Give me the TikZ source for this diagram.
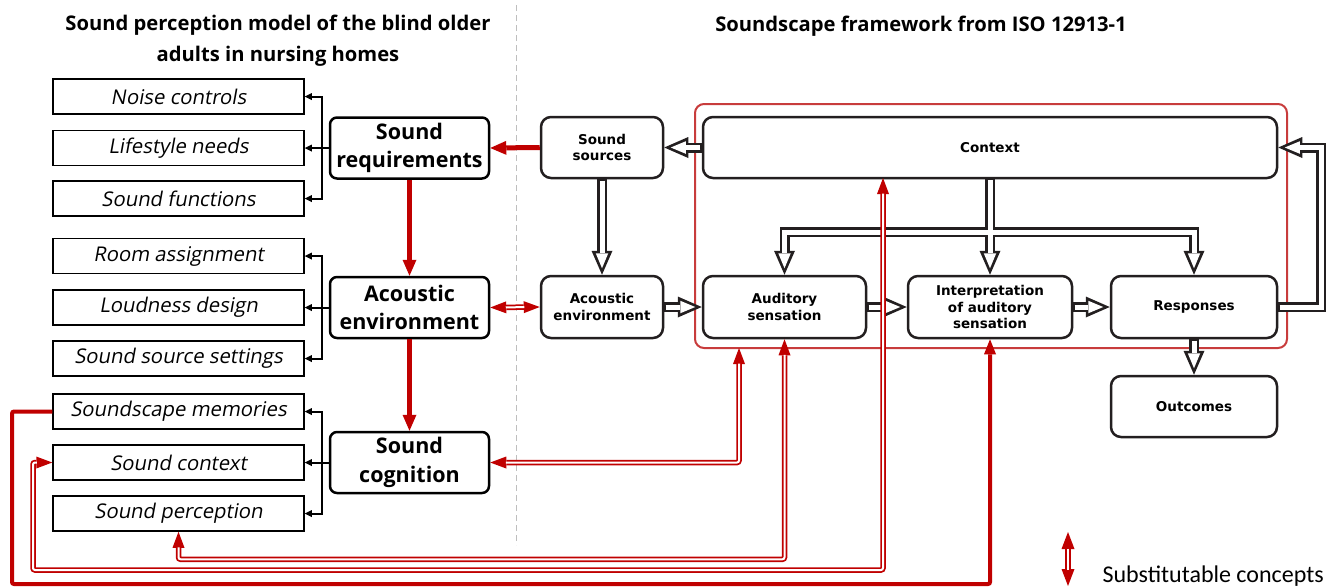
\documentclass[tikz,border=0pt]{standalone}
\usepackage{fontspec}
\setmainfont{Open Sans}
\newfontfamily\lblfont[FakeSlant=0.18]{Open Sans}
\newfontfamily\vfont{DejaVu Sans}
\newfontfamily\cfont{Carlito}
\usetikzlibrary{arrows.meta}
\definecolor{ink}{RGB}{35,31,32}
\definecolor{dred}{RGB}{192,0,0}
\definecolor{fred}{RGB}{200,60,60}
\begin{document}
\begin{tikzpicture}[x=1pt,y=-1pt,
  lbox/.style={draw=black, line width=1.5pt, minimum width=251pt, minimum height=35pt, inner sep=0pt, font=\lblfont\fontsize{20.3}{22}\selectfont},
  cbox/.style={draw=black, line width=2.5pt, rounded corners=7pt, minimum width=159pt, minimum height=61pt, inner sep=0pt, align=center, font=\bfseries\fontsize{21.5}{28.5}\selectfont},
  rbox/.style={draw=ink, line width=2.5pt, rounded corners=10pt, minimum height=61pt, inner sep=0pt, align=center, font=\vfont\bfseries\fontsize{13.5}{16.5}\selectfont},
  ttl/.style={align=center, font=\bfseries\fontsize{20.2}{31}\selectfont},
  blk/.style={draw=black, line width=2pt, -{Triangle[length=7pt,width=7pt,line width=0pt]}},
  holW/.style={draw=white, line width=5pt, shorten >=6.5pt, shorten <=1.4pt, -{Triangle[length=15pt,width=12.5pt,line width=0pt]}},
  hol/.style={draw=ink, line width=10pt, -{Triangle[length=24pt,width=21pt,line width=0pt]}, postaction={holW}},
  rthick/.style={draw=dred, line width=5pt, -{Triangle[length=16pt,width=14pt,line width=0pt]}},
  rthin/.style={draw=dred, line width=4pt, rounded corners=2pt, -{Triangle[length=15pt,width=12pt,line width=0pt]}},
  rdbl/.style={draw=dred, line width=5.5pt, rounded corners=2pt,
    {Triangle[length=16pt,width=12pt,line width=0pt]}-{Triangle[length=16pt,width=12pt,line width=0pt]},
    postaction={draw=white, line width=2pt, arrows=-, shorten <=15.5pt, shorten >=15.5pt}},
  legarr/.style={draw=dred, line width=5.5pt,
    {Triangle[length=17pt,width=13pt,line width=0pt]}-{Triangle[length=17pt,width=13pt,line width=0pt]},
    postaction={draw=white, line width=2pt, arrows=-, shorten <=16.5pt, shorten >=16.5pt}},
]
\useasboundingbox (0,0) rectangle (1338,587);

% titles
\node[ttl] (t1) at (278,41) {Sound perception model of the blind older\\adults in nursing homes};
\node[ttl] (t2) at (921,26) {Soundscape framework from ISO 12913-1};

% dashed divider
\draw[draw={rgb,255:red,190;green,190;blue,190}, line width=1pt, dash pattern=on 6pt off 4pt] (516,5) -- (516,545);

% left boxes
\node[lbox] (nc) at (178.5,96.5) {Noise controls};
\node[lbox] (ln) at (178.5,148) {Lifestyle needs};
\node[lbox] (sf) at (178.5,198.5) {Sound functions};
\node[lbox] (ra) at (178.5,256) {Room assignment};
\node[lbox] (ld) at (178.5,307.5) {Loudness design};
\node[lbox] (ss) at (178.5,358.5) {Sound source settings};
\node[lbox] (sm) at (178.5,411.5) {Soundscape memories};
\node[lbox] (sc) at (178.5,462.5) {Sound context};
\node[lbox] (sp) at (178.5,513.5) {Sound perception};

% center boxes
\node[cbox] (sr) at (409.5,148) {Sound\\requirements};
\node[cbox] (ae) at (409.5,307.5) {Acoustic\\environment};
\node[cbox] (sco) at (409.5,462.5) {Sound\\cognition};

% ISO frame
\node[draw=fred, line width=2pt, rounded corners=9pt, minimum width=592pt, minimum height=244pt, inner sep=0pt] (frame) at (991,226) {};

% right boxes
\node[rbox, minimum width=122pt] (src) at (602,147.5) {Sound\\sources};
\node[rbox, minimum width=122pt, minimum height=62pt] (ae2) at (602,307) {Acoustic\\environment};
\node[rbox, minimum width=574pt] (ctx) at (990,147.5) {Context};
\node[rbox, minimum width=163pt, minimum height=62pt] (aud) at (784.5,307) {Auditory\\sensation};
\node[rbox, minimum width=164pt, minimum height=62pt] (int) at (990,307) {Interpretation\\of auditory\\sensation};
\node[rbox, minimum width=166pt, minimum height=62pt] (resp) at (1194,307) {Responses};
\node[rbox, minimum width=166pt] (out) at (1194,406.5) {Outcomes};

% bracket connectors
\coordinate (b1) at (322,148);
\coordinate (b2) at (322,307.5);
\coordinate (b3) at (322,462.5);
\draw[blk] (sr.west) -- (ln.east);
\draw[blk] (sr.west) -- (b1) |- (nc.east);
\draw[blk] (sr.west) -- (b1) |- (sf.east);
\draw[blk] (ae.west) -- (ld.east);
\draw[blk] (ae.west) -- (b2) |- (ra.east);
\draw[blk] (ae.west) -- (b2) |- (ss.east);
\draw[blk] (sco.west) -- (sc.east);
\draw[blk] (sco.west) -- (b3) |- (sm.east);
\draw[blk] (sco.west) -- (b3) |- (sp.east);

% hollow (ISO) arrows
\coordinate (jn) at (990,232);
\draw[hol] (ctx.west) -- (src.east);
\draw[hol] (src.south) -- (ae2.north);
\draw[hol] (ae2.east) -- (aud.west);
\draw[hol] (aud.east) -- (int.west);
\draw[hol] (int.east) -- (resp.west);
\draw[hol] (resp.south) -- (out.north);
\draw[hol] (resp.east) -- ++(43,0) |- (ctx.east);
\draw[hol] (ctx.south) -- (jn) -| (aud.north);
\draw[hol] (ctx.south) -- (int.north);
\draw[hol] (ctx.south) -- (jn) -| (resp.north);
\draw[white, line width=5pt] (990,180) -- (990,242);
\draw[white, line width=5pt] (784.5,232) -- (1194,232);

% red connectors
\draw[rthick] (src.west) -- (sr.east);
\draw[rthick] (sr.south) -- (ae.north);
\draw[rthick] (ae.south) -- (sco.north);
\draw[rdbl] (ae2.west) -- (ae.east);
\coordinate (f1) at (739,348);
\coordinate (c1) at (883,178);
\draw[rdbl] (f1) |- (sco.east);
\draw[rdbl] (aud.south) -- ++(0,220) -| (sp.south);
\draw[rdbl] (c1) |- (33,570) |- (sc.west);
\draw[rthin] (sm.west) -| (12,584) -| (int.south);

% legend
\coordinate (lg1) at (1068,532);
\coordinate (lg2) at (1068,586);
\draw[legarr] (lg1) -- (lg2);
\node[anchor=west, font=\cfont\fontsize{24}{27}\selectfont] (lgt) at (1099,576) {Substitutable concepts};
\end{tikzpicture}
\end{document}
